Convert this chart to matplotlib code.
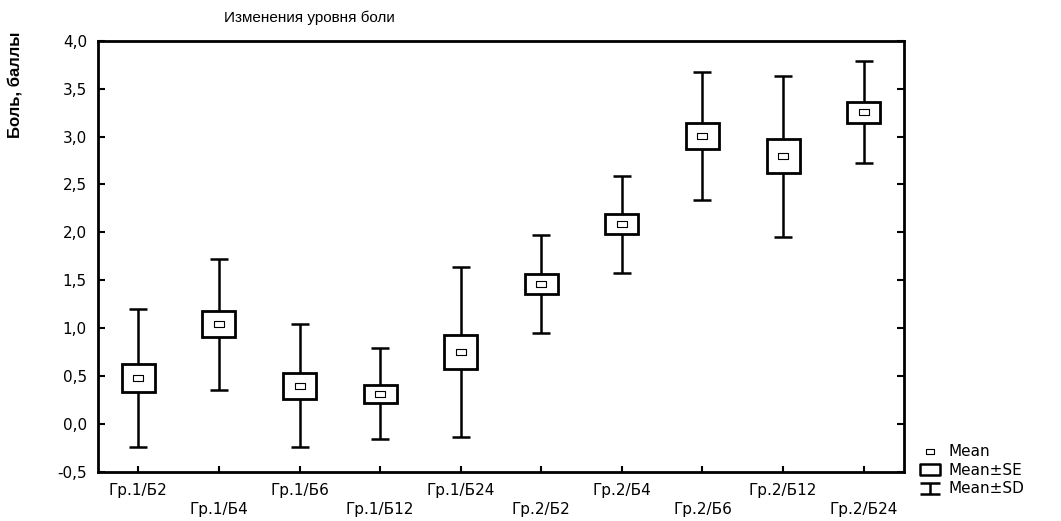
import numpy as np
import matplotlib
matplotlib.use("Agg")
import matplotlib.pyplot as plt
from matplotlib.path import Path
from matplotlib.lines import Line2D

plt.rcParams['font.family'] = ['Liberation Sans', 'DejaVu Sans']

# данные
groups = ["Гр.1/Б2", "Гр.1/Б4", "Гр.1/Б6", "Гр.1/Б12", "Гр.1/Б24",
          "Гр.2/Б2", "Гр.2/Б4", "Гр.2/Б6", "Гр.2/Б12", "Гр.2/Б24"]
mean = np.array([0.48, 1.04, 0.40, 0.315, 0.75, 1.46, 2.085, 3.005, 2.795, 3.255])
se = np.array([0.145, 0.135, 0.135, 0.095, 0.18, 0.105, 0.105, 0.135, 0.175, 0.11])
sd = np.array([0.72, 0.68, 0.64, 0.475, 0.885, 0.51, 0.505, 0.665, 0.84, 0.535])
yticks = [-0.5, 0.0, 0.5, 1.0, 1.5, 2.0, 2.5, 3.0, 3.5, 4.0]

title = "Изменения уровня боли"
ylabel = "Боль, баллы"

wide = ['DejaVu Sans']  # подписи на исходнике широкие

# маленький прямоугольник для среднего
rect_marker = Path([(-1, -0.6), (1, -0.6), (1, 0.6), (-1, 0.6), (-1, -0.6)],
                   [Path.MOVETO, Path.LINETO, Path.LINETO, Path.LINETO, Path.CLOSEPOLY])
# для легенды: плоский прямоугольник и значок "I"
box_marker = Path([(-1, -0.55), (1, -0.55), (1, 0.55), (-1, 0.55), (-1, -0.55)],
                  [Path.MOVETO, Path.LINETO, Path.LINETO, Path.LINETO, Path.CLOSEPOLY])
i_marker = Path([(-1, 0.55), (1, 0.55), (0, 0.55), (0, -0.55), (-1, -0.55), (1, -0.55)],
                [Path.MOVETO, Path.LINETO, Path.MOVETO, Path.LINETO, Path.MOVETO, Path.LINETO])

fig = plt.figure(figsize=(10.61, 5.21), dpi=100)
ax = fig.add_axes([0.0924, 0.094, 0.852 - 0.0924, 0.922 - 0.094])

x = np.arange(len(groups))
ax.errorbar(x, mean, yerr=sd, fmt='none', ecolor='black', elinewidth=1.8,
            capsize=6.5, capthick=1.8, zorder=2)
ax.bar(x, 2 * se, bottom=mean - se, width=0.41, facecolor='white',
       edgecolor='black', linewidth=2.0, zorder=3)
ax.plot(x, mean, ls='none', marker=rect_marker, ms=7, mfc='white', mec='black',
        mew=0.8, zorder=4)

ax.set_xlim(-0.5, len(groups) - 0.5)
ax.set_ylim(-0.5, 4.0)
ax.set_yticks(yticks)
ax.set_yticklabels([f"{v:.1f}".replace('.', ',') for v in yticks], family=wide)

# подписи по оси X в два ряда
ax.set_xticks(x[::2])
ax.set_xticklabels(groups[::2], family=wide)
ax.set_xticks(x[1::2], minor=True)
ax.set_xticklabels(groups[1::2], minor=True, family=wide)
ax.tick_params(axis='x', which='major', direction='in', length=4, width=1.5,
               pad=8, labelsize=11)
ax.tick_params(axis='x', which='minor', direction='in', length=4, width=1.5,
               pad=21.5, labelsize=11)
ax.tick_params(axis='y', direction='in', length=5, width=1.5, pad=8,
               labelsize=11, right=True)

for s in ax.spines.values():
    s.set_linewidth(2.0)

fig.text(0.292, 0.965, title, fontsize=11, ha='center', va='center')
fig.text(0.0141, 0.837, ylabel, fontsize=12, rotation=90, ha='center',
         va='center', fontweight='bold')

handles = [
    Line2D([], [], ls='none', marker=rect_marker, ms=6, mfc='white', mec='black', mew=0.8),
    Line2D([], [], ls='none', marker=box_marker, ms=14.4, mfc='white', mec='black', mew=1.8),
    Line2D([], [], ls='none', marker=i_marker, ms=14.4, mfc='none', mec='black', mew=1.8),
]
fig.legend(handles, ["Mean", "Mean±SE", "Mean±SD"], loc='upper left',
           bbox_to_anchor=(0.857, 0.168), frameon=False,
           prop={'family': wide, 'size': 11},
           handlelength=1.3, handletextpad=0.6, labelspacing=0.22,
           borderpad=0.2)

fig.savefig("out.png", dpi=100)
